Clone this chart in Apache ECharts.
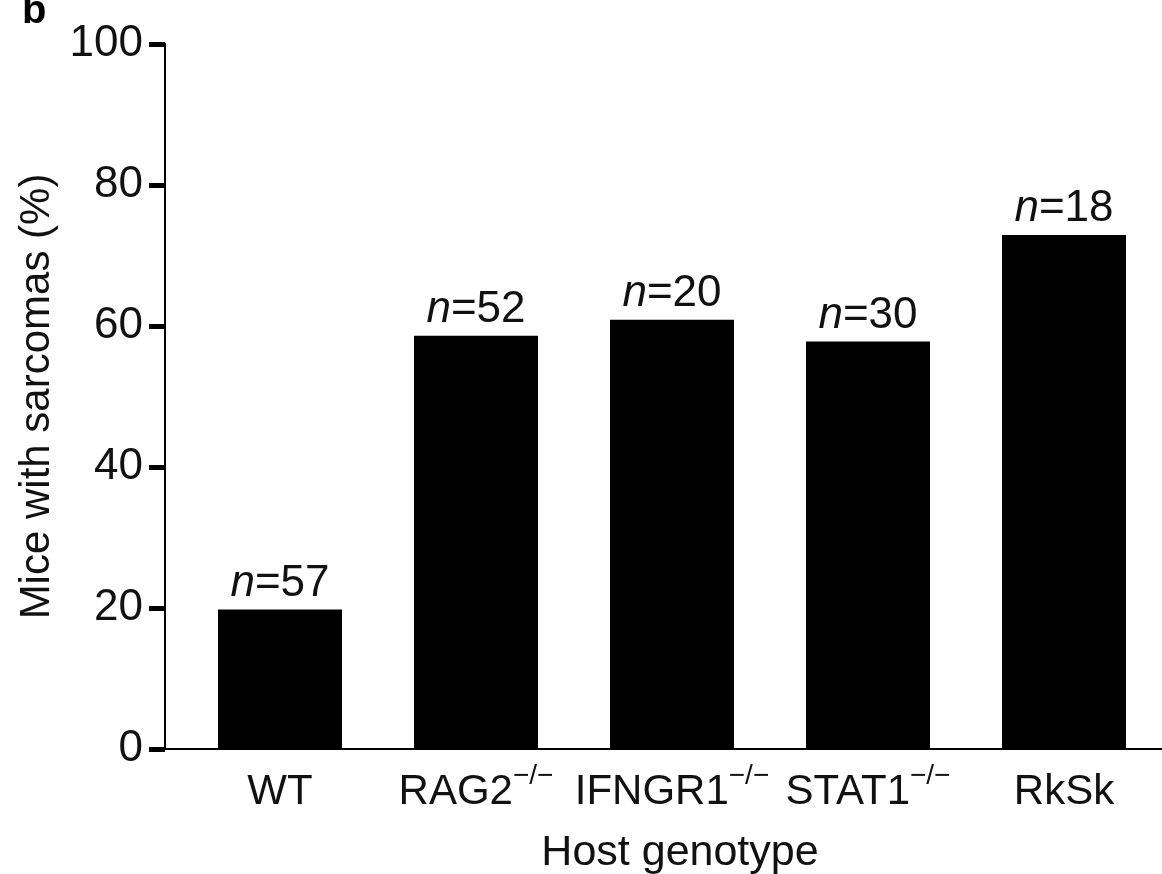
<!DOCTYPE html>
<html>
<head>
<meta charset="utf-8">
<script src="https://cdn.jsdelivr.net/npm/echarts@6/dist/echarts.min.js"></script>
<style>
  html, body { margin: 0; padding: 0; background: #ffffff; }
  #chart { width: 1162px; height: 874px; }
</style>
</head>
<body>
<div id="chart"></div>
<script>
// Host genotypes, whether each is a homozygous knockout, and sarcoma incidence
const genotypes = ['WT', 'RAG2', 'IFNGR1', 'STAT1', 'RkSk'];
const knockout = [false, true, true, true, false];
const sarcomaPercent = [19.8, 58.6, 60.9, 57.8, 72.9];
const miceCount = [57, 52, 20, 30, 18];
const yTicks = [0, 20, 40, 60, 80, 100];

const FONT = '"Liberation Sans", Arial, Helvetica, sans-serif';
const INK = '#111111';

const chart = echarts.init(document.getElementById('chart'), null, { renderer: 'canvas' });

chart.setOption({
  backgroundColor: '#ffffff',
  animation: false,
  textStyle: { fontFamily: FONT, color: INK },
  graphic: [{
    type: 'text',
    left: 22,
    top: -8,
    style: { text: 'b', font: 'bold 40px ' + FONT, fill: '#000' }
  }],
  grid: [
    // frame grid: carries the y axis and the full-width baseline
    { left: 165, right: 0, top: 44, bottom: 125, containLabel: false, outerBoundsMode: 'none' },
    // bar grid: category bands start a little right of the y axis
    { left: 182, right: 0, top: 44, bottom: 125, containLabel: false, outerBoundsMode: 'none' }
  ],
  xAxis: [
    {
      gridIndex: 0, type: 'value', min: 0, max: 1,
      axisLine: { show: true, lineStyle: { color: '#000', width: 2 } },
      axisTick: { show: false }, axisLabel: { show: false }, splitLine: { show: false }
    },
    {
      gridIndex: 1, type: 'category', data: genotypes,
      axisLine: { show: false }, axisTick: { show: false },
      axisLabel: {
        margin: 13,
        interval: 0,
        formatter: (v, i) => knockout[i] ? '{b|' + v + '}{s|\u2212/\u2212}' : '{b|' + v + '}',
        rich: {
          b: { fontFamily: FONT, fontSize: 42, lineHeight: 60, color: INK },
          s: { fontFamily: FONT, fontSize: 28, lineHeight: 28, color: INK, verticalAlign: 'top' }
        }
      },
      name: 'Host genotype',
      nameLocation: 'middle',
      nameGap: 83,
      nameTextStyle: { fontFamily: FONT, fontSize: 43, color: INK, padding: [0, 0, 0, 16] }
    }
  ],
  yAxis: [
    {
      gridIndex: 0, type: 'value',
      min: yTicks[0], max: yTicks[yTicks.length - 1], interval: yTicks[1] - yTicks[0],
      axisLine: { show: true, lineStyle: { color: '#000', width: 2 } },
      axisTick: { show: true, length: 16, lineStyle: { color: '#000', width: 5 } },
      axisLabel: { margin: 22, fontFamily: FONT, fontSize: 44, color: INK },
      splitLine: { show: false },
      name: 'Mice with sarcomas (%)',
      nameLocation: 'middle',
      nameRotate: 90,
      nameGap: 97,
      nameTextStyle: { fontFamily: FONT, fontSize: 42, color: INK }
    },
    {
      gridIndex: 1, type: 'value',
      min: yTicks[0], max: yTicks[yTicks.length - 1], interval: yTicks[1] - yTicks[0],
      show: false
    }
  ],
  series: [{
    type: 'bar',
    xAxisIndex: 1,
    yAxisIndex: 1,
    data: sarcomaPercent,
    barWidth: 124,
    itemStyle: { color: '#000000' },
    label: {
      show: true,
      position: 'top',
      distance: 4,
      formatter: p => '{i|n}{t|=' + miceCount[p.dataIndex] + '}',
      rich: {
        i: { fontFamily: FONT, fontSize: 44, fontStyle: 'italic', color: INK },
        t: { fontFamily: FONT, fontSize: 44, color: INK }
      }
    }
  }]
});
</script>
</body>
</html>
